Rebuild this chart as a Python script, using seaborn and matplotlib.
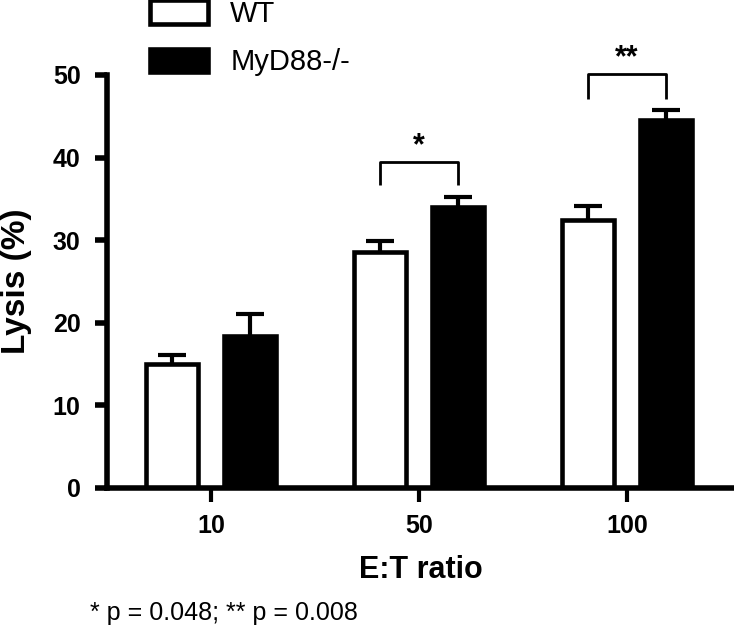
import matplotlib
matplotlib.use("Agg")
import matplotlib.pyplot as plt
import pandas as pd
import seaborn as sns

# values (mean lysis % and upper error)
ratios = ["10", "50", "100"]
groups = ["WT", "MyD88-/-"]
wt_lysis = [15.0, 28.5, 32.4]
wt_err = [1.1, 1.35, 1.7]
ko_lysis = [18.4, 34.0, 44.6]
ko_err = [2.7, 1.2, 1.1]

# significance brackets
sig_idx = [1, 2]
sig_top = [39.45, 50.1]
sig_low = [36.7, 47.05]
sig_text = ["*", "**"]
footnote = "* p = 0.048; ** p = 0.008"

df = pd.DataFrame({
    "ratio": ratios * 2,
    "group": [groups[0]] * len(ratios) + [groups[1]] * len(ratios),
    "lysis": wt_lysis + ko_lysis,
})

sns.set_style("ticks")
plt.rcParams["font.family"] = ["Liberation Sans", "DejaVu Sans"]
for key in ["text.color", "axes.labelcolor", "xtick.color", "ytick.color",
            "axes.edgecolor"]:
    plt.rcParams[key] = "black"

fig = plt.figure(figsize=(7.34, 6.29), dpi=100)
ax = fig.add_axes([107 / 734, 1 - 487.7 / 629, 627 / 734, 412.7 / 629])

sns.barplot(data=df, x="ratio", y="lysis", hue="group", order=ratios,
            hue_order=groups, palette=["white", "black"], saturation=1,
            edgecolor="black", linewidth=3.3, width=0.75, gap=0.333,
            errorbar=None, legend=False, ax=ax)

# upper-only error bars
for cont, errs in zip(ax.containers, [wt_err, ko_err]):
    xs = [p.get_x() + p.get_width() / 2 for p in cont]
    ys = [p.get_height() for p in cont]
    eb = ax.errorbar(xs, ys, yerr=[[0] * len(errs), errs], fmt="none",
                     ecolor="black", elinewidth=3, capsize=10, capthick=3,
                     zorder=4)
    eb[1][0].set_visible(False)

# brackets
for i, top, low, txt in zip(sig_idx, sig_top, sig_low, sig_text):
    p0 = ax.containers[0][i]
    p1 = ax.containers[1][i]
    x0 = p0.get_x() + p0.get_width() / 2
    x1 = p1.get_x() + p1.get_width() / 2
    ax.plot([x0, x0, x1, x1], [low, top, top, low], color="black", lw=2,
            clip_on=False, solid_capstyle="butt")
    ax.text((x0 + x1) / 2, top + 0.1, txt, ha="center", va="bottom",
            fontsize=22, fontweight="bold")

ax.set_xlim(-0.5, 2.514)
ax.set_ylim(0, 50)
ax.set_yticks([0, 10, 20, 30, 40, 50])
sns.despine(ax=ax)
for s in ["left", "bottom"]:
    ax.spines[s].set_linewidth(4)
ax.tick_params(axis="y", length=9, width=4, pad=10, labelsize=18)
ax.tick_params(axis="x", length=10, width=3, pad=9, labelsize=18)
for lab in ax.get_xticklabels() + ax.get_yticklabels():
    lab.set_fontweight("bold")

ax.set_xlabel("E:T ratio", fontsize=22, fontweight="bold", labelpad=12)
ax.set_ylabel("Lysis (%)", fontsize=24, fontweight="bold")
ax.yaxis.set_label_coords(-0.12, 0.5)

fig.legend(handles=list(ax.containers[:2]), labels=groups, loc="upper left",
           bbox_to_anchor=(150 / 734, 1.0), frameon=False, fontsize=21,
           handlelength=2.0, handleheight=0.85, handletextpad=0.75,
           labelspacing=0.7, borderpad=0, borderaxespad=0)

fig.text(90 / 734, 1 - 620 / 629, footnote, fontsize=18, va="baseline")

fig.savefig("out.png", dpi=100)
